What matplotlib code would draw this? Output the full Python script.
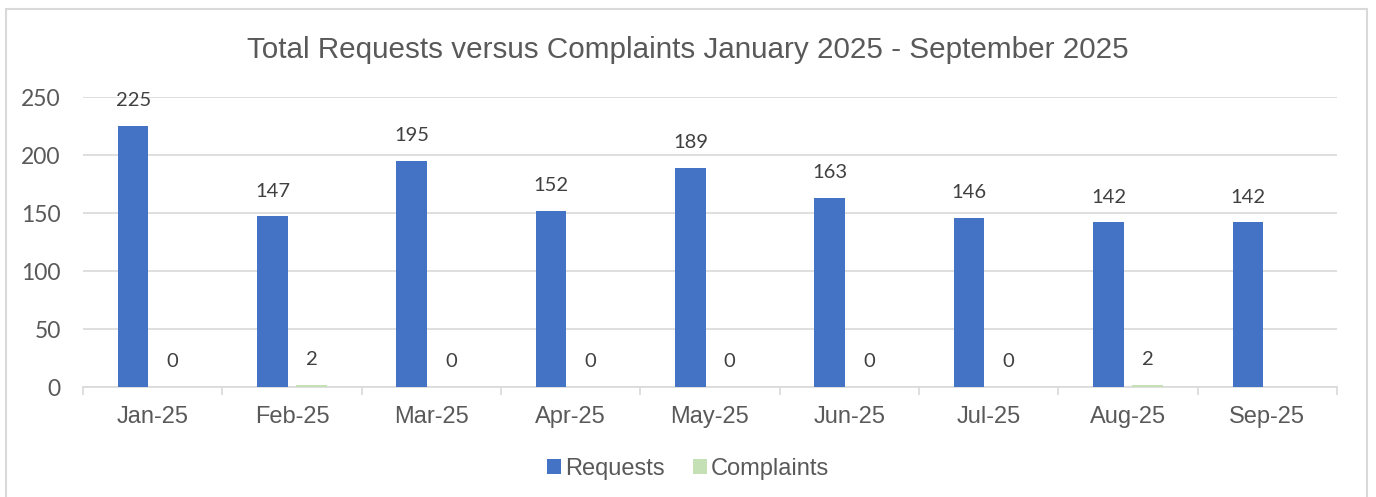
import numpy as np
import matplotlib.pyplot as plt
from matplotlib.patches import Rectangle

# datos
months = ["Jan-25", "Feb-25", "Mar-25", "Apr-25", "May-25", "Jun-25", "Jul-25", "Aug-25", "Sep-25"]
requests = [225, 147, 195, 152, 189, 163, 146, 142, 142]
complaints = [0, 2, 0, 0, 0, 0, 0, 2, np.nan]  # Sep sin dato

blue = "#4472c4"
green = "#c5e0b4"
grid_col = "#d9d9d9"
txt_col = "#595959"
lab_col = "#404040"

plt.rcParams["font.family"] = ["Liberation Sans", "DejaVu Sans"]

W, H = 1376, 497
fig = plt.figure(figsize=(W / 100, H / 100), dpi=100)
ax = fig.add_axes([83 / W, (H - 387) / H, (1337 - 83) / W, 290 / H])

x = np.arange(len(months))
w = 0.22
off = 0.14
b1 = ax.bar(x - off, requests, w, color=blue, label="Requests", zorder=3)
b2 = ax.bar(x + off, complaints, w, color=green, label="Complaints", zorder=3)

for rect, v in zip(b1, requests):
    ax.annotate(str(v), (rect.get_x() + rect.get_width() / 2, v),
                xytext=(0, 12), textcoords="offset points", ha="center", va="bottom",
                fontsize=14.5, color=lab_col, family=["Lato", "DejaVu Sans"])
for rect, v in zip(b2, complaints):
    if np.isnan(v):
        continue
    ax.annotate(str(int(v)), (rect.get_x() + rect.get_width() / 2, v),
                xytext=(0, 12), textcoords="offset points", ha="center", va="bottom",
                fontsize=14.5, color=lab_col, family=["Lato", "DejaVu Sans"])

ax.set_xlim(-0.5, len(months) - 0.5)
ax.set_ylim(0, 250)
ax.set_yticks(np.arange(0, 251, 50))
ax.yaxis.grid(True, color=grid_col, linewidth=1.2, zorder=0)
ax.set_axisbelow(True)

ax.set_xticks(x)
ax.set_xticklabels(months)
ax.set_xticks(np.arange(-0.5, len(months)), minor=True)
ax.tick_params(axis="x", which="major", length=0, pad=14, labelsize=17, labelcolor=txt_col)
ax.tick_params(axis="x", which="minor", length=6, color=grid_col, width=1.2)
ax.tick_params(axis="y", length=0, pad=16, labelsize=16.5, labelcolor=txt_col)
for t in ax.get_yticklabels():
    t.set_fontfamily(["Lato", "DejaVu Sans"])

for s in ["top", "right", "left"]:
    ax.spines[s].set_visible(False)
ax.spines["bottom"].set_color(grid_col)
ax.spines["bottom"].set_linewidth(1.2)

fig.text(0.5, (H - 50) / H, "Total Requests versus Complaints January 2025 - September 2025",
         ha="center", va="center", fontsize=21.3, color=txt_col)

fig.legend(loc="center", bbox_to_anchor=(0.5, (H - 469) / H), ncol=2, frameon=False,
           fontsize=17, labelcolor=txt_col, handlelength=0.6, handleheight=0.6,
           handletextpad=0.15, columnspacing=1.2)

# borde del grafico
fig.patches.append(Rectangle((6 / W, -0.05), (1367 - 6) / W, (H - 9) / H + 0.05,
                             transform=fig.transFigure, fill=False,
                             edgecolor=grid_col, linewidth=1.5))

fig.savefig("out.png", dpi=100)
